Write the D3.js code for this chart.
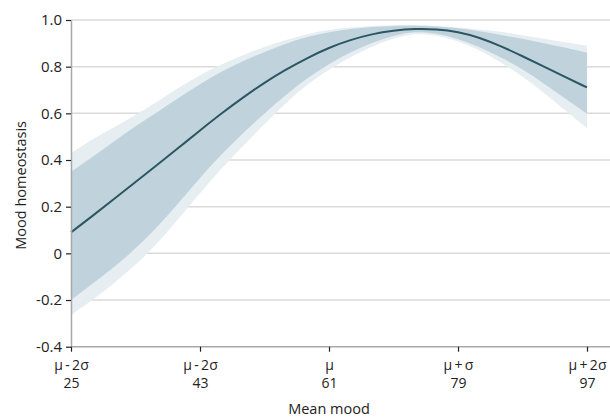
<!DOCTYPE html>
<meta charset="utf-8">
<script src="https://d3js.org/d3.v7.min.js"></script>
<style>
  body { margin: 0; background: #fff; }
  text { font-family: "Open Sans", sans-serif; fill: #222; }
</style>
<body>
  <div id="container"></div>
</body>
<script>
    // mean mood values (x), sampled every 3 points
    var meanMood = [25, 28, 31, 34, 37, 40, 43, 46, 49, 52, 55, 58, 61,
                    64, 67, 70, 73, 76, 79, 82, 85, 88, 91, 94, 97];
    // fitted mood homeostasis
    var fit = [0.09, 0.16, 0.233, 0.306, 0.378, 0.452, 0.527, 0.60, 0.668, 0.732, 0.788, 0.838, 0.882,
               0.915, 0.940, 0.955, 0.963, 0.961, 0.950, 0.925, 0.888, 0.845, 0.80, 0.755, 0.711];
    // inner interval
    var innerHi = [0.35, 0.413, 0.48, 0.545, 0.605, 0.666, 0.725, 0.78, 0.824, 0.864, 0.90, 0.928, 0.948,
                   0.962, 0.971, 0.975, 0.976, 0.973, 0.965, 0.952, 0.935, 0.92, 0.90, 0.882, 0.86];
    var innerLo = [-0.20, -0.13, -0.06, 0.02, 0.11, 0.215, 0.325, 0.425, 0.515, 0.60, 0.68, 0.752, 0.812,
                   0.862, 0.903, 0.933, 0.952, 0.943, 0.92, 0.885, 0.84, 0.79, 0.728, 0.662, 0.598];
    // outer interval
    var outerHi = [0.43, 0.49, 0.54, 0.592, 0.65, 0.709, 0.765, 0.81, 0.849, 0.886, 0.915, 0.94, 0.958,
                   0.968, 0.975, 0.978, 0.979, 0.975, 0.968, 0.96, 0.95, 0.935, 0.92, 0.905, 0.89];
    var outerLo = [-0.265, -0.20, -0.129, -0.05, 0.04, 0.148, 0.258, 0.365, 0.46, 0.555, 0.645, 0.725, 0.788,
                   0.842, 0.888, 0.921, 0.944, 0.935, 0.91, 0.872, 0.818, 0.758, 0.688, 0.612, 0.536];

    var xTicks = [25, 43, 61, 79, 97];
    var xTickNames = ["μ\u2009-\u20092σ", "μ\u2009-\u20092σ", "μ", "μ\u2009+\u2009σ", "μ\u2009+\u20092σ"];
    var yTicks = [-0.4, -0.2, 0, 0.2, 0.4, 0.6, 0.8, 1.0];

    var data = meanMood.map(function (m, i) {
      return {x: m, y: fit[i], ih: innerHi[i], il: innerLo[i], oh: outerHi[i], ol: outerLo[i]};
    });

    var margin = {top: 20, right: 23, bottom: 70, left: 71},
    width = 610 - margin.left - margin.right,
    height = 417 - margin.top - margin.bottom - 0.3;

    var svg = d3.select("#container")
    .append("svg")
    .attr("width", 610)
    .attr("height", 417)
    .append("g")
    .attr("transform", "translate(" + margin.left + "," + margin.top + ")");

    var x = d3.scaleLinear().domain([25, 97]).range([0, width]);
    var y = d3.scaleLinear().domain([-0.4, 1.0]).range([height, 0]);

    // gridlines
    svg.append("g")
      .selectAll("line")
      .data(yTicks.filter(function (d) { return d > -0.4; }))
      .enter()
      .append("line")
        .attr("x1", 0)
        .attr("x2", width + margin.right)
        .attr("y1", function (d) { return y(d); })
        .attr("y2", function (d) { return y(d); })
        .style("stroke", "#dadada")
        .style("stroke-width", 1.5);

    var curve = d3.curveBasis;

    // outer band
    svg.append("path")
      .datum(data)
      .attr("d", d3.area().curve(curve)
        .x(function (d) { return x(d.x); })
        .y0(function (d) { return y(d.ol); })
        .y1(function (d) { return y(d.oh); }))
      .style("fill", "#e6eef2");

    // inner band
    svg.append("path")
      .datum(data)
      .attr("d", d3.area().curve(curve)
        .x(function (d) { return x(d.x); })
        .y0(function (d) { return y(d.il); })
        .y1(function (d) { return y(d.ih); }))
      .style("fill", "#c0d3dc");

    // fitted line
    svg.append("path")
      .datum(data)
      .attr("d", d3.line().curve(d3.curveBasis)
        .x(function (d) { return x(d.x); })
        .y(function (d) { return y(d.y); }))
      .style("fill", "none")
      .style("stroke", "#2b5663")
      .style("stroke-width", 2);

    // Y axis
    var yAxis = svg.append("g")
      .call(d3.axisLeft(y).tickValues(yTicks).tickSize(5).tickSizeOuter(0)
        .tickFormat(function (d) { return d === 0 ? "0" : d.toFixed(1); }));
    yAxis.select(".domain").style("stroke", "#a8a8a8").style("stroke-width", 1.5);
    yAxis.selectAll(".tick line").style("stroke", "#222").style("stroke-width", 1.2);
    yAxis.selectAll(".tick text").attr("x", -9).style("font-size", "15px")
      .style("font-family", "Open Sans").style("fill", "#222");

    // X axis
    var xAxis = svg.append("g")
      .attr("transform", "translate(0," + height + ")")
      .call(d3.axisBottom(x).tickValues(xTicks).tickSize(5).tickSizeOuter(0).tickFormat(""));
    xAxis.select(".domain").attr("d", "M0,0H" + (width + margin.right))
      .style("stroke", "#a8a8a8").style("stroke-width", 1.5);
    xAxis.selectAll(".tick line").style("stroke", "#222").style("stroke-width", 1.2);
    xAxis.selectAll(".tick").each(function (d, i) {
      var g = d3.select(this);
      g.append("text")
        .attr("text-anchor", "middle")
        .attr("y", 23)
        .style("font-size", "14px")
        .text(xTickNames[i]);
      g.append("text")
        .attr("text-anchor", "middle")
        .attr("y", 41)
        .style("font-size", "14px")
        .text(d);
    });

    // X axis label
    svg.append("text")
      .attr("text-anchor", "middle")
      .attr("x", x(61))
      .attr("y", height + 67)
      .style("font-size", "14.5px")
      .text("Mean mood");

    // Y axis label
    svg.append("text")
      .attr("text-anchor", "middle")
      .attr("transform", "rotate(-90)")
      .attr("x", -height / 2 - 2)
      .attr("y", -45)
      .style("font-size", "14.5px")
      .text("Mood homeostasis");
</script>
